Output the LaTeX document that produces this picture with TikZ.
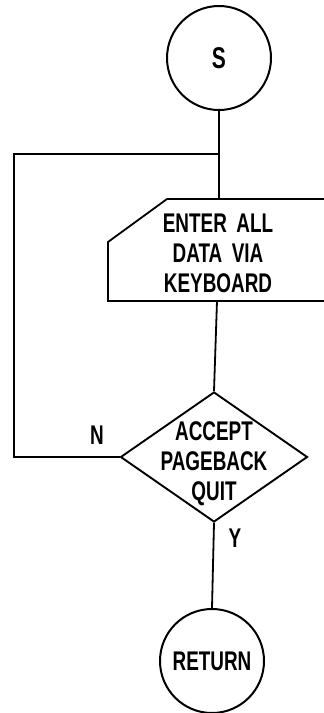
\documentclass[tikz,border=0pt]{standalone}
\usepackage{fontspec}
\setmainfont{Liberation Sans}[FakeStretch=0.7,WordSpace=1.8]
\usetikzlibrary{shapes.geometric}
\tikzset{
  ln/.style={line width=1.8pt},
  term/.style={circle, draw, line width=2pt, inner sep=0pt},
  lbl/.style={font=\fontsize{27}{30}\selectfont\bfseries, align=center, inner sep=0pt},
  dec/.style={diamond, draw, line width=1.9pt, inner sep=0pt, minimum width=187pt, minimum height=130pt}
}
\begin{document}
\begin{tikzpicture}[x=1pt,y=-1pt]
\useasboundingbox (0,0) rectangle (324,713);
% start
\node[term, minimum size=104pt] (s) at (219,58) {};
\node[lbl, font=\fontsize{30}{30}\selectfont\bfseries] (stxt) at (s) {S};
% input box (open at right)
\coordinate (boxtop) at (219,199);
\coordinate (boxbot) at (217,301);
\coordinate (jn) at (219,154);
\draw[ln] (324,199) -- (167,199) -- (108,242) -- (108,301) -- (324,301);
\node[lbl] (enter) at (218,253) {ENTER ALL\\DATA VIA\\KEYBOARD};
% decision
\node[dec] (d) at (214,457) {};
\node[lbl] (dtxt) at (214,464) {ACCEPT\\PAGEBACK\\QUIT};
% return
\node[term, minimum size=104pt] (r) at (212,661) {};
\node[lbl] (rtxt) at (r) {RETURN};
% connectors
\coordinate (loopc) at (14,154);
\draw[ln] (s.south) -- (jn) -- (boxtop);
\draw[ln] (boxbot) -- (d.north);
\draw[ln] (d.west) -| (loopc) -- (jn);
\draw[ln] (d.south) -- (r.north);
% labels
\node[lbl] (nlab) at (97,435) {N};
\node[lbl] (ylab) at (235,538) {Y};
\end{tikzpicture}
\end{document}
